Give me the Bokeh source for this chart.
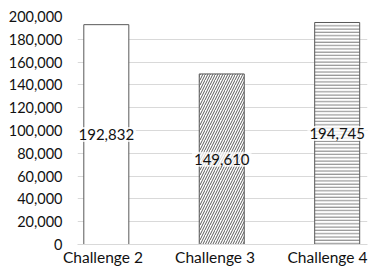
from bokeh.plotting import figure
from bokeh.models import ColumnDataSource, Range1d, FixedTicker, NumeralTickFormatter
from bokeh.embed import file_html
from bokeh.resources import INLINE
from bokeh.core.properties import value

# ---- data ----
categories = ["Challenge 2", "Challenge 3", "Challenge 4"]
values = [192832, 149610, 194745]
y_ticks = [0, 20000, 40000, 60000, 80000, 100000, 120000, 140000, 160000, 180000, 200000]

# ---- styles ----
hatch_patterns = [" ", "/", "-"]
hatch_scales = [12, 5, 3.3]
hatch_colors = ["#595959", "#595959", "#808080"]
label_shift = [-0.029, -0.058, -0.084]  # horizontal nudge of category labels (style)
FONT = "Lato"

x = list(range(len(categories)))
src = ColumnDataSource(dict(
    x=x,
    top=values,
    mid=[v / 2 for v in values],
    label=[f"{v:,}" for v in values],
    hp=hatch_patterns,
    hs=hatch_scales,
    hc=hatch_colors,
))

p = figure(width=371, height=268,
           x_range=Range1d(-0.2496, 2.2626), y_range=Range1d(0, 200000),
           output_backend="svg", toolbar_location=None,
           min_border_left=77, min_border_right=4,
           min_border_top=16, min_border_bottom=24)
p.outline_line_color = None
p.background_fill_color = "white"

p.vbar(x="x", top="top", width=0.39, source=src,
       fill_color="white", line_color="#595959", line_width=1,
       hatch_pattern="hp", hatch_scale="hs", hatch_color="hc", hatch_weight=1)

p.text(x="x", y="mid", text="label", source=src,
       text_align="center", text_baseline="middle",
       text_font=value(FONT), text_font_size="15px", text_color="#111111",
       background_fill_color="white", background_fill_alpha=0.75, padding=2)

tick_pos = [i + s for i, s in zip(x, label_shift)]
p.xaxis.ticker = FixedTicker(ticks=tick_pos)
p.xaxis.major_label_overrides = {t: c for t, c in zip(tick_pos, categories)}
p.xaxis.axis_line_color = "#d9d9d9"
p.xaxis.major_tick_line_color = None
p.xaxis.minor_tick_line_color = None
p.xaxis.major_tick_out = 0
p.xaxis.major_tick_in = 0
p.xaxis.major_label_standoff = 3
p.xaxis.major_label_text_font = FONT
p.xaxis.major_label_text_font_size = "15.5px"
p.xaxis.major_label_text_color = "#111111"

p.yaxis.ticker = FixedTicker(ticks=y_ticks)
p.yaxis.formatter = NumeralTickFormatter(format="0,0")
p.yaxis.axis_line_color = None
p.yaxis.major_tick_line_color = None
p.yaxis.minor_tick_line_color = None
p.yaxis.major_tick_out = 0
p.yaxis.major_tick_in = 0
p.yaxis.major_label_standoff = 15
p.yaxis.major_label_text_font = FONT
p.yaxis.major_label_text_font_size = "14.5px"
p.yaxis.major_label_text_color = "#111111"

p.xgrid.grid_line_color = None
p.ygrid.grid_line_color = "#d9d9d9"
p.ygrid.ticker = FixedTicker(ticks=y_ticks)

open("out.html", "w").write(file_html(p, INLINE))
